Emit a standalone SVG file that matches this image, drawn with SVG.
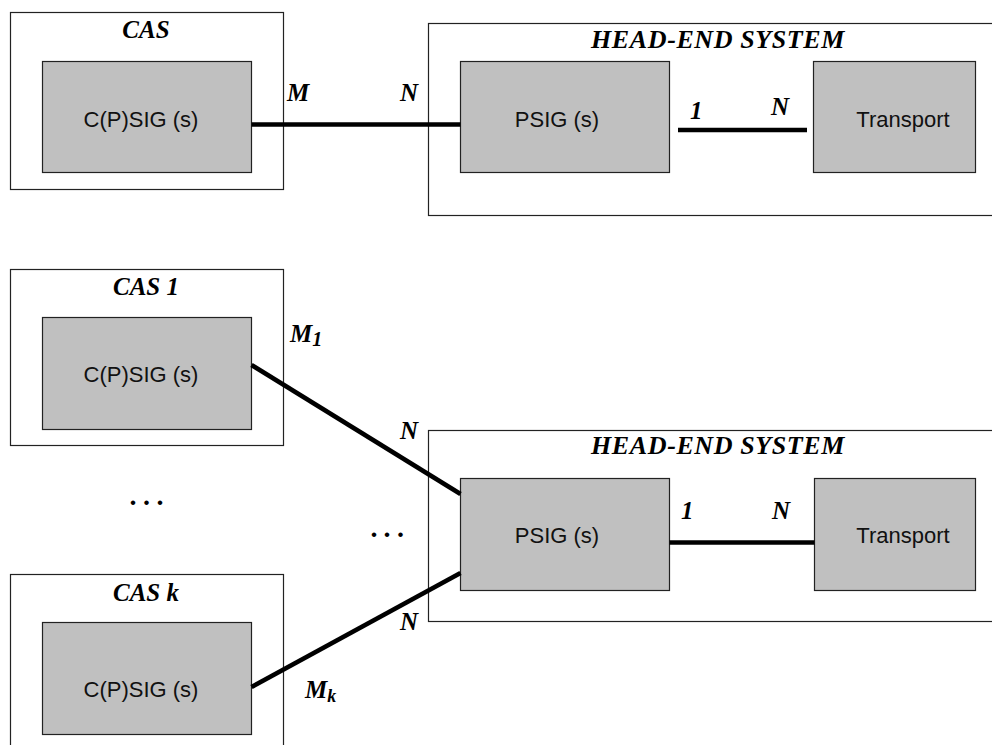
<svg xmlns="http://www.w3.org/2000/svg" width="992" height="745" viewBox="0 0 992 745">
<style>
.outer{fill:#fff;stroke:#222;stroke-width:1.2}
.inner{fill:#c0c0c0;stroke:#222;stroke-width:1.2}
.lbl{font-family:"Liberation Sans",Arial,sans-serif;font-size:22px;fill:#111;text-anchor:middle}
.ttl{font-family:"Liberation Serif","Times New Roman",serif;font-size:25px;font-weight:bold;font-style:italic;fill:#000;text-anchor:middle}
.wide{font-size:26px;letter-spacing:0.6px}
.card{font-family:"Liberation Serif","Times New Roman",serif;font-size:25px;font-weight:bold;font-style:italic;fill:#000}
.dots{font-family:"Liberation Serif","Times New Roman",serif;font-size:28px;font-weight:bold;fill:#000}
.conn{stroke:#000;stroke-width:4.6;fill:none}
</style>
<rect width="992" height="745" fill="#fff"/>

<!-- Top diagram -->
<g id="cas-top">
<rect class="outer" x="10.5" y="12.5" width="273" height="177"/>
<text class="ttl" x="146" y="38">CAS</text>
</g>
<g id="cpsig-top">
<rect class="inner" x="42.5" y="61.5" width="209" height="111"/>
<text class="lbl" x="141" y="127">C(P)SIG (s)</text>
</g>
<g id="headend-top">
<rect class="outer" x="428.5" y="23.5" width="570" height="192"/>
<text class="ttl wide" x="718" y="48">HEAD-END SYSTEM</text>
</g>
<g id="psig-top">
<rect class="inner" x="460.5" y="61.5" width="209" height="111"/>
<text class="lbl" x="557" y="127">PSIG (s)</text>
</g>
<g id="transport-top">
<rect class="inner" x="813.5" y="61.5" width="162" height="111"/>
<text class="lbl" x="903" y="127">Transport</text>
</g>

<!-- Bottom diagram -->
<g id="cas-1">
<rect class="outer" x="10.5" y="269.5" width="273" height="176"/>
<text class="ttl" x="146" y="295">CAS 1</text>
</g>
<g id="cpsig-1">
<rect class="inner" x="42.5" y="317.5" width="209" height="112"/>
<text class="lbl" x="141" y="382">C(P)SIG (s)</text>
</g>
<g id="cas-k">
<rect class="outer" x="10.5" y="574.5" width="273" height="190"/>
<text class="ttl" x="146" y="601">CAS k</text>
</g>
<g id="cpsig-k">
<rect class="inner" x="42.5" y="622.5" width="209" height="112"/>
<text class="lbl" x="141" y="697">C(P)SIG (s)</text>
</g>
<g id="headend-bottom">
<rect class="outer" x="428.5" y="430.5" width="570" height="191"/>
<text class="ttl wide" x="718" y="454">HEAD-END SYSTEM</text>
</g>
<g id="psig-bottom">
<rect class="inner" x="460.5" y="478.5" width="209" height="112"/>
<text class="lbl" x="557" y="543">PSIG (s)</text>
</g>
<g id="transport-bottom">
<rect class="inner" x="814.5" y="478.5" width="161" height="112"/>
<text class="lbl" x="903" y="543">Transport</text>
</g>

<!-- Connectors -->
<g id="connectors">
<line class="conn" x1="251.5" y1="124.5" x2="460.5" y2="124.5"/>
<line class="conn" x1="678" y1="130" x2="807" y2="130"/>
<line class="conn" x1="251.5" y1="365" x2="460.5" y2="494"/>
<line class="conn" x1="251.5" y1="687" x2="460.5" y2="573"/>
<line class="conn" x1="669.5" y1="542.5" x2="814.5" y2="542.5"/>
</g>

<!-- Cardinality labels -->
<g id="labels">
<text class="card" x="287" y="101">M</text>
<text class="card" x="400" y="101">N</text>
<text class="card" x="690" y="119">1</text>
<text class="card" x="771" y="115">N</text>
<text class="card" x="290" y="342">M<tspan font-size="20" dy="4">1</tspan></text>
<text class="card" x="400" y="439">N</text>
<text class="card" x="400" y="630">N</text>
<text class="card" x="305" y="698">M<tspan font-size="18" dy="4">k</tspan></text>
<text class="card" x="681" y="519">1</text>
<text class="card" x="772" y="519">N</text>
<text class="dots" x="129.5 143 156.5" y="505">...</text>
<text class="dots" x="370.5 383.5 397" y="537">...</text>
</g>
</svg>
